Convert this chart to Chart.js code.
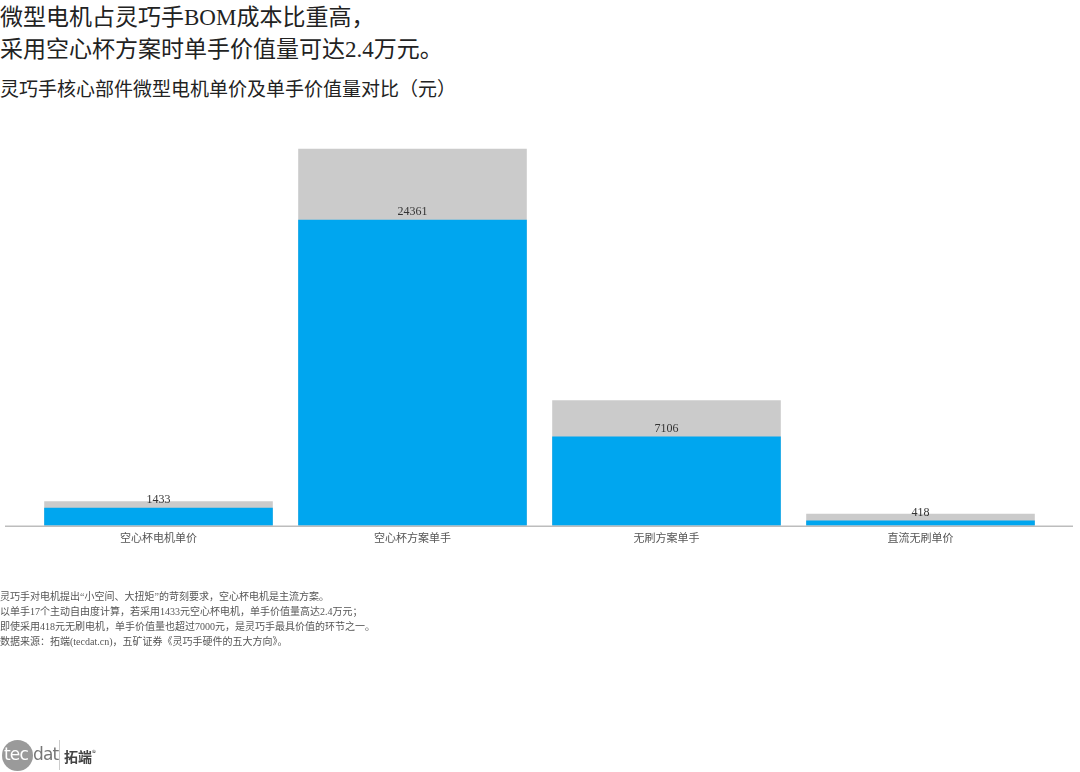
<!DOCTYPE html>
<html>
<head>
<meta charset="utf-8">
<script src="https://cdn.jsdelivr.net/npm/chart.js@4.4.1/dist/chart.umd.min.js"></script>
<style>
  html, body { margin: 0; padding: 0; background: #fff; }
  body { width: 1080px; height: 772px; position: relative; overflow: hidden;
         font-family: "Liberation Serif", "Noto Sans CJK SC", serif; }
  #wrap { position: absolute; left: 0; top: 0; width: 1080px; height: 772px; }
  .title { position: absolute; left: 0; top: 2px; font-size: 23px; line-height: 32px; color: #222; white-space: nowrap; }
  .sub { position: absolute; left: 0; top: 78px; font-size: 19px; line-height: 24px; color: #222; white-space: nowrap; }
  .notes { position: absolute; left: 0; top: 589px; font-size: 10px; line-height: 15px; color: #555; white-space: nowrap; }
  .logo { position: absolute; left: 2px; top: 738px; height: 30px; }
  .circ { position: absolute; left: 0; top: 2px; width: 31px; height: 31px; border-radius: 50%; background: #9a9a9a; }
  .tec { position: absolute; left: 2px; top: 6px; font-family: "DejaVu Sans", sans-serif; font-size: 17px; color: #fff; letter-spacing: -0.8px; }
  .dat { position: absolute; left: 31px; top: 6px; font-family: "DejaVu Sans", sans-serif; font-size: 17px; color: #777; letter-spacing: -0.8px; }
  .vl { position: absolute; left: 57px; top: 2px; width: 1px; height: 30px; background: #ccc; }
  .tw { position: absolute; left: 62px; top: 8px; font-family: "Noto Sans CJK SC", sans-serif; font-weight: bold; font-size: 14px; color: #444; white-space: nowrap; }
  .tw sup { font-size: 8px; font-weight: normal; }
</style>
</head>
<body>
<div class="title">微型电机占灵巧手BOM成本比重高，<br>采用空心杯方案时单手价值量可达2.4万元。</div>
<div class="sub">灵巧手核心部件微型电机单价及单手价值量对比（元）</div>
<div id="wrap"><canvas id="c" width="1080" height="772"></canvas></div>
<div class="notes">
灵巧手对电机提出“小空间、大扭矩”的苛刻要求，空心杯电机是主流方案。<br>
以单手17个主动自由度计算，若采用1433元空心杯电机，单手价值量高达2.4万元；<br>
即使采用418元无刷电机，单手价值量也超过7000元，是灵巧手最具价值的环节之一。<br>
数据来源：拓端(tecdat.cn)，五矿证券《灵巧手硬件的五大方向》。
</div>
<div class="logo">
  <div class="circ"></div>
  <div class="tec">tec</div>
  <div class="dat">dat</div>
  <div class="vl"></div>
  <div class="tw">拓端<sup>®</sup></div>
</div>
<script>
const categories = ["空心杯电机单价", "空心杯方案单手", "无刷方案单手", "直流无刷单价"];
const values = [1433, 24361, 7106, 418];
const backgroundValues = [1950, 30000, 10000, 950];

const axisLine = {
  id: 'axisLine',
  afterDatasetsDraw(chart) {
    const ctx = chart.ctx, a = chart.chartArea;
    ctx.save();
    ctx.strokeStyle = '#bdbdbd';
    ctx.lineWidth = 1.5;
    ctx.beginPath();
    ctx.moveTo(5, a.bottom + 0.5);
    ctx.lineTo(1073, a.bottom + 0.5);
    ctx.stroke();
    ctx.restore();
  }
};

const valueLabels = {
  id: 'valueLabels',
  afterDatasetsDraw(chart) {
    const ctx = chart.ctx;
    const meta = chart.getDatasetMeta(0);
    ctx.save();
    ctx.font = '12px "Liberation Serif", "Noto Sans CJK SC", serif';
    ctx.fillStyle = '#333';
    ctx.textAlign = 'center';
    ctx.textBaseline = 'bottom';
    meta.data.forEach((bar, i) => {
      ctx.fillText(String(values[i]), bar.x, bar.y - 2);
    });
    ctx.restore();
  }
};

new Chart(document.getElementById('c'), {
  type: 'bar',
  data: {
    labels: categories,
    datasets: [
      { label: '值', data: values, backgroundColor: '#00A6EF', grouped: false,
        categoryPercentage: 0.9, barPercentage: 1.0 },
      { label: '背景', data: backgroundValues, backgroundColor: '#CBCBCB', grouped: false,
        categoryPercentage: 0.9, barPercentage: 1.0 }
    ]
  },
  options: {
    responsive: false,
    animation: false,
    devicePixelRatio: 1,
    layout: { padding: { left: 31.5, right: 32.5, top: 130, bottom: 223 } },
    plugins: { legend: { display: false }, tooltip: { enabled: false } },
    scales: {
      x: {
        offset: true,
        grid: { display: false, drawTicks: false },
        border: { display: false },
        ticks: { color: '#555', padding: 5,
                 font: { size: 11, family: '"Noto Sans CJK SC", sans-serif' } }
      },
      y: { display: false, min: 0, max: 31500 }
    }
  },
  plugins: [axisLine, valueLabels]
});
</script>
</body>
</html>
